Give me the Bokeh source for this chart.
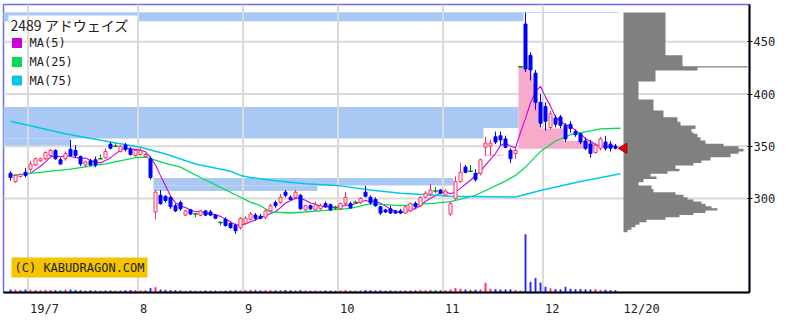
import numpy as np
import pandas as pd
from math import pi
from bokeh.plotting import figure
from bokeh.models import Range1d, FixedTicker, Label
from bokeh.embed import file_html
from bokeh.resources import INLINE

# ---------------- data ----------------
title_text = "2489 アドウェイズ"
copyright_text = "(C) KABUDRAGON.COM"
ma_names = ["MA(5)", "MA(25)", "MA(75)"]
month_labels = ["19/7", "8", "9", "10", "11", "12"]
last_label = "12/20"
days_per_month = [4, 22, 21, 19, 21, 20, 15]   # Jun(tail), Jul..Nov, Dec up to 20th
price_ticks = [300, 350, 400, 450]

opens = [324,316,321,325,328,332,336,338,341,346,
         337,338,347,346,340,332,336,337,338,339,
         352,350,345,351,347,341,342,340,338,287,
         303,302,301,293,296,284,289,285,284,288,
         287,284,277,280,276,274,272,276,280,284,
         283,282,288,296,296,306,301,301,303,289,
         293,289,290,295,294,291,290,295,295,296,
         296,306,301,299,292,289,290,288,288,286,
         288,295,293,301,304,307,308,303,285,300,
         316,330,326,324,324,349,350,359,360,357,
         346,343,426,467,437,420,392,388,368,377,
         378,370,371,364,362,355,352,344,348,354,
         352,350]
highs = [326,323,323,329,336,339,339,345,347,347,
         339,345,356,351,341,336,338,340,342,348,
         354,353,351,353,349,347,348,343,340,308,
         308,303,302,295,298,289,290,286,289,289,
         289,285,278,282,277,276,282,283,287,286,
         285,290,295,298,304,308,303,308,304,294,
         294,297,295,297,295,293,296,306,297,298,
         301,312,303,301,293,290,293,289,290,293,
         296,297,302,307,314,311,309,309,297,321,
         334,332,332,328,338,359,356,364,364,360,
         348,348,426,478,440,423,400,392,384,380,
         380,372,374,366,363,358,356,353,359,360,
         355,352]
lows = [317,315,320,320,325,331,335,337,340,337,
        332,336,340,339,331,330,331,330,338,338,
        347,350,344,345,341,340,341,339,318,280,
        294,296,290,287,288,283,284,282,283,283,
        283,280,274,273,271,266,270,275,279,279,
        280,280,287,291,295,301,298,299,289,288,
        289,288,289,291,288,289,289,293,290,295,
        295,301,294,292,284,286,285,285,285,285,
        287,291,292,300,302,305,304,302,283,298,
        315,324,325,316,322,341,341,352,351,348,
        334,338,426,421,413,385,368,365,366,368,
        367,354,363,359,352,346,339,343,346,346,
        345,347]
closes = [320,322,323,322,333,338,338,344,346,338,
          333,343,341,341,333,335,332,332,338,345,
          348,350,350,347,342,346,346,342,320,306,
          295,298,292,288,290,288,285,285,288,284,
          284,281,277,274,272,269,281,281,285,281,
          281,288,293,293,301,303,299,306,290,293,
          290,294,293,292,289,291,295,301,291,296,
          300,302,296,293,286,287,286,286,286,292,
          295,292,301,305,308,307,305,307,295,316,
          325,325,326,318,337,353,353,354,356,349,
          338,346,426,424,423,392,372,374,381,371,
          370,357,367,361,354,348,343,351,357,348,
          348,348]
volumes = [70,65,60,70,
           60,55,50,60,55,50,45,65,70,55,50,45,50,45,40,50,45,40,45,50,55,50,
           45,50,110,130,70,60,55,50,45,40,45,40,40,45,40,40,35,40,45,50,45,
           55,60,50,45,50,55,45,50,55,50,45,55,45,40,45,40,45,40,40,
           45,55,40,40,45,55,50,45,50,40,45,40,40,45,50,45,55,50,60,50,45,
           50,70,110,90,70,60,65,70,240,90,80,70,70,75,60,40,1500,270,370,250,
           140,100,80,75,140,90,80,85,75,70,80,60,65,55,50]

ma25_day = [0, 3, 12, 19, 25, 27, 28, 31, 34, 38, 41, 45, 48, 50, 52, 56, 63, 68,
            72, 78, 85, 88, 93, 99, 101, 103, 106, 109, 112, 118, 122]
ma25_val = [322, 323.5, 328, 333, 339, 339.5, 338, 333.5, 330, 320, 313, 303.5, 296.5,
            293, 287, 286, 288.5, 290.5, 295, 293, 295.5, 297, 303, 316.5, 322, 330,
            345, 355, 361, 366.5, 367.2]
ma75_day = [0, 11, 20, 26, 31, 37, 44, 46, 48, 53, 59, 66, 72, 78, 85, 88, 101, 106, 114, 122]
ma75_val = [374, 362, 354, 349, 342.5, 333, 326, 322, 320, 317, 314, 312, 308, 305,
            303, 302, 301.3, 307.6, 316.2, 323.6]

# resistance zones (day index from/to, price low/high)
zone_x0 = [-2, 102.6, -2, -2, -2, 28.6, 28.6]
zone_x1 = [102.6, 121.6, 101.6, 94.6, 12.0, 61.4, 88.6]
zone_lo = [469.8, 477.8, 367.4, 357.4, 349.7, 307.2, 312.4]
zone_hi = [478.4, 478.6, 387.5, 367.4, 357.4, 312.4, 319.5]

# pink shadow zone after the limit-up day
pink_day = [101.6, 101.6, 104.0, 104.6, 105.5, 106.0, 110.6, 110.6, 116.6, 116.6]
pink_px = [347.5, 426.0, 426.0, 410.0, 392.0, 367.0, 367.0, 355.0, 355.0, 347.5]
pink2_x0, pink2_x1, pink2_lo, pink2_hi = [95.0], [98.6], [340.8], [341.8]

# volume-at-price profile
prof_lo = [267.6, 270, 272.4, 274.8, 277.2, 279.6, 282, 284, 286, 288.4, 290.5, 292.5,
           294.8, 297, 299, 301.2, 303.5, 305.9, 309, 312.4, 315.5, 318.5, 321, 323.6,
           326, 328.5, 331.5, 334, 336.3, 339.5, 342.7, 345, 347.5, 350, 352.3, 355.5,
           358.5, 361.9, 363.4, 366.5, 369.8, 373.5, 377.8, 384.2, 394.7, 412, 422.5,
           425.5, 426.5, 437.2]
prof_hi = prof_lo[1:] + [478.0]
prof_vol = [40, 80, 120, 160, 230, 420, 560, 700, 820, 940, 880, 820,
            780, 700, 640, 600, 520, 300, 280, 150, 200, 330, 270, 440,
            560, 520, 700, 780, 870, 1070, 1150, 1200, 1150, 1000, 820, 770,
            740, 700, 680, 720, 570, 540, 400, 300, 150, 320, 740,
            1240, 590, 420]

# ---------------- layout helpers (pixel -> data, for annotations only) ----------------
PX_DAY0, PX_PER_DAY = 10.0, 5.0
PX_P350, PX_PER_YEN = 145.7, 1.044
def dx(px):
    return (px - PX_DAY0) / PX_PER_DAY
def dy(py):
    return 350 - (py - PX_P350) / PX_PER_YEN

FRAME_L, FRAME_R, FRAME_T, FRAME_B = 3, 749, 4, 292
x_lo, x_hi = dx(FRAME_L), dx(FRAME_R)
y_lo, y_hi = dy(FRAME_B), dy(FRAME_T)

n = len(closes)
idx = np.arange(n)
o = np.array(opens, float); c = np.array(closes, float)
h = np.array(highs, float); l = np.array(lows, float)
up = c > o
dn = c < o
dj = c == o

RED = "#ff2a5a"
BLUE = "#0000ff"
GREEN = "#008a00"
MA_COLORS = ["#cc00dd", "#00dd55", "#00c8e6"]

p = figure(width=805, height=325, output_backend="svg", toolbar_location=None,
           x_range=Range1d(x_lo, x_hi), y_range=Range1d(y_lo, y_hi),
           y_axis_location="right",
           min_border_left=FRAME_L, min_border_top=FRAME_T,
           min_border_right=805 - FRAME_R, min_border_bottom=325 - FRAME_B,
           background_fill_color="white", border_fill_color="white")
p.grid.visible = False
p.outline_line_color = "#6b6bf0"
p.outline_line_width = 1.5

vol_top = max(volumes) * (FRAME_B - FRAME_T) / 58.0
p.extra_y_ranges = {"vol": Range1d(0, vol_top)}
p.extra_x_ranges = {"prof": Range1d(-(623 - FRAME_L) * 10, (FRAME_R - 623) * 10)}

# zones
p.quad(left=zone_x0, right=zone_x1, bottom=zone_lo, top=zone_hi,
       fill_color="#a9c9f4", line_color=None)

# legend box background
p.quad(left=[dx(8)], right=[dx(138)], bottom=[dy(92)], top=[dy(15)],
       fill_color="white", line_color=None)

# grid lines
month_start = np.cumsum(days_per_month)[:-1]
grid_x = month_start - 0.5
p.segment(x0=grid_x, x1=grid_x, y0=[y_lo] * len(grid_x), y1=[y_hi] * len(grid_x),
          line_color="#dadada", line_width=2)
p.segment(x0=[x_lo] * len(price_ticks), x1=[x_hi] * len(price_ticks),
          y0=price_ticks, y1=price_ticks, line_color="#dadada", line_width=2)

# pink zone
p.patch(pink_day, pink_px, fill_color="#f5abc9", line_color=None)
p.quad(left=pink2_x0, right=pink2_x1, bottom=pink2_lo, top=pink2_hi,
       fill_color="#f5abc9", line_color=None)

# moving averages
ma5 = pd.Series(closes, dtype=float).rolling(5).mean().values
p.line(idx, ma5, line_color=MA_COLORS[0], line_width=1.1)
p.line(ma25_day, ma25_val, line_color=MA_COLORS[1], line_width=1.3)
p.line(ma75_day, ma75_val, line_color=MA_COLORS[2], line_width=1.5)

# volume
vcol = np.where(up, RED, np.where(dn, "#2828ff", GREEN))
p.vbar(x=idx, width=0.25, bottom=0, top=volumes, y_range_name="vol",
       fill_color=list(vcol), line_color=list(vcol), line_width=0.6)

# volume-at-price profile as one stepped shape (no seams between bins)
prof_xs, prof_ys = [0], [prof_lo[0]]
for lo_, hi_, v_ in zip(prof_lo, prof_hi, prof_vol):
    prof_xs += [v_, v_]
    prof_ys += [lo_, hi_]
prof_xs.append(0)
prof_ys.append(prof_hi[-1])
p.patch(prof_xs, prof_ys, x_range_name="prof", fill_color="#808080", line_color=None)

# candles
ccol = np.where(up, RED, np.where(dn, BLUE, GREEN))
p.segment(x0=idx, x1=idx, y0=l, y1=h, line_color=list(ccol), line_width=1)
p.vbar(x=idx[dn], width=0.6, bottom=c[dn], top=o[dn], fill_color=BLUE, line_color=BLUE, line_width=1)
p.vbar(x=idx[up], width=0.6, bottom=o[up], top=c[up], fill_color="white", line_color=RED, line_width=1)
p.segment(x0=idx[dj] - 0.45, x1=idx[dj] + 0.45, y0=c[dj], y1=c[dj], line_color=GREEN, line_width=1.5)

# current price marker
p.scatter(x=[n - 1 + 1.7], y=[closes[-1]], marker="triangle", angle=pi / 2, size=10,
          fill_color="#ee0000", line_color="#990000", line_width=1)

# legend
p.add_layout(Label(x=dx(10), y=dy(24), text=title_text, text_baseline="middle",
                   text_font="Noto Sans CJK JP", text_font_size="14px", text_color="#222222"))
leg_rows = [dy(42.5), dy(61.5), dy(80)]
p.scatter(x=[dx(16.5)] * 3, y=leg_rows, marker="square", size=9,
          fill_color=MA_COLORS, line_color=MA_COLORS)
for name, yy in zip(ma_names, leg_rows):
    p.add_layout(Label(x=dx(29), y=yy, text=name, text_baseline="middle",
                       text_font="DejaVu Sans Mono", text_font_size="12px", text_color="#222222"))

# copyright
p.add_layout(Label(x=dx(11), y=dy(267), text=copyright_text, text_baseline="middle",
                   text_font="DejaVu Sans Mono", text_font_size="12px", text_color="#222222",
                   background_fill_color="#f5c400", padding=3))

# axes
CHAR_W = 7.22
lab_pos, lab_txt = [], []
for ms, lbl in zip(month_start, month_labels):
    left_px = PX_DAY0 + PX_PER_DAY * (ms - 0.5) + 2
    lab_pos.append(round(dx(left_px + len(lbl) * CHAR_W / 2), 2))
    lab_txt.append(lbl)
left_px = PX_DAY0 + PX_PER_DAY * (n - 1) + 8
lab_pos.append(round(dx(left_px + len(last_label) * CHAR_W / 2), 2))
lab_txt.append(last_label)

xa = p.xaxis[0]
xa.ticker = FixedTicker(ticks=lab_pos)
xa.major_label_overrides = {pos: t for pos, t in zip(lab_pos, lab_txt)}
xa.axis_line_color = "black"
xa.axis_line_width = 2
xa.major_tick_line_color = None
xa.minor_tick_line_color = None
xa.major_label_standoff = 3
xa.major_label_text_font = "DejaVu Sans Mono"
xa.major_label_text_font_size = "12px"
xa.major_label_text_color = "#222222"

ya = p.yaxis[0]
ya.ticker = FixedTicker(ticks=price_ticks)
ya.axis_line_color = "black"
ya.axis_line_width = 2
ya.major_tick_in = 2
ya.major_tick_out = 3
ya.major_tick_line_color = "black"
ya.minor_tick_line_color = None
ya.major_label_standoff = 1
ya.major_label_text_font = "DejaVu Sans Mono"
ya.major_label_text_font_size = "12px"
ya.major_label_text_color = "#222222"

open("out.html", "w").write(file_html(p, INLINE))
